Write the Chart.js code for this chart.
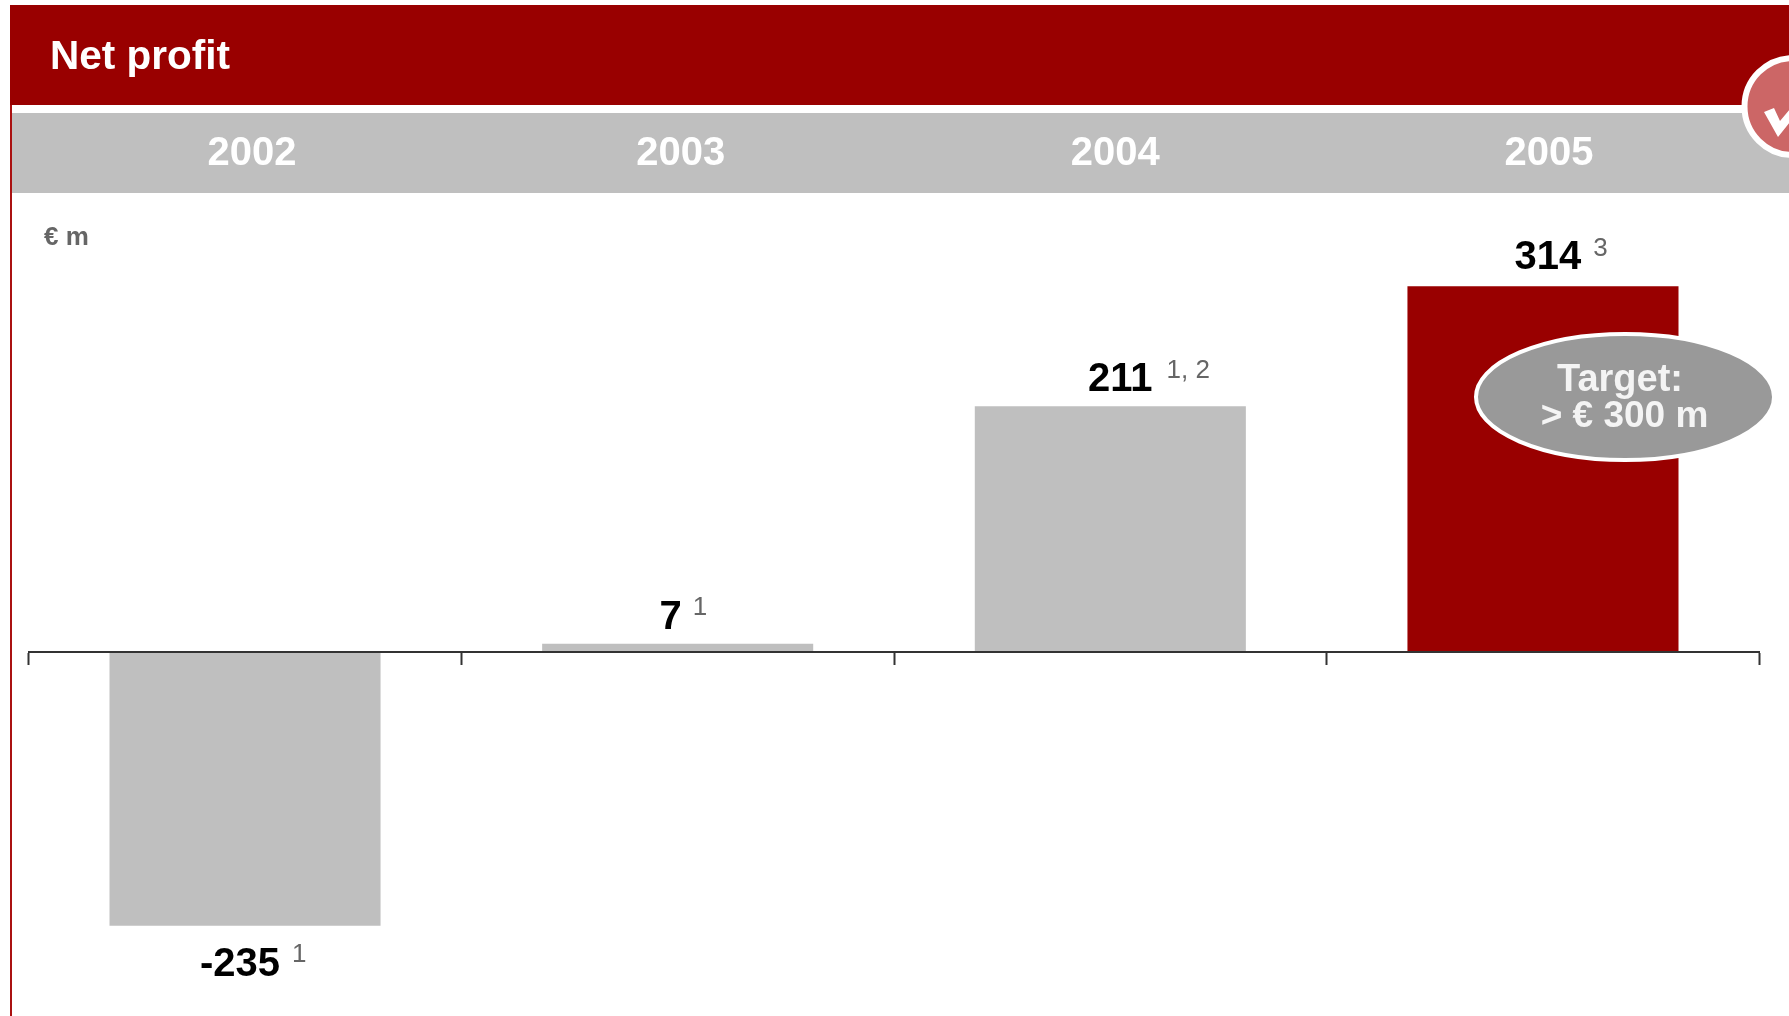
<!DOCTYPE html>
<html>
<head>
<meta charset="utf-8">
<title>Net profit</title>
<script src="https://cdn.jsdelivr.net/npm/chart.js@4"></script>
<style>
    html, body { margin: 0; padding: 0; background: #fff; }
    canvas { display: block; }
</style>
</head>
<body>
<canvas id="chartProfit" width="1789" height="1016"></canvas>
<script>
const years = ['2002', '2003', '2004', '2005'];
const netProfit = [-235, 7, 211, 314];
const footnotes = ['1', '1', '1, 2', '3'];
const barColors = ['#bfbfbf', '#bfbfbf', '#bfbfbf', '#990000'];

// how far each label sits from its bar
const yearShift = [7, 3, 5, 6];
const valueShift = [-5, -7, 10, 5];
const valueGap = [50, 15, 15, 17];
const noteGap = [12, 11, 14, 12];

const FONT = '"Liberation Sans", Arial, sans-serif';

function text(ctx, str, x, y, font, color, align) {
    ctx.font = font;
    ctx.fillStyle = color;
    ctx.textAlign = align || 'center';
    ctx.textBaseline = 'alphabetic';
    ctx.fillText(str, x, y);
}

// red title bar, grey year band and the left rule
const frame = {
    id: 'frame',
    beforeDraw(chart) {
        const ctx = chart.ctx;
        const xScale = chart.scales.x;
        ctx.save();
        ctx.fillStyle = '#990000';
        ctx.fillRect(10, 5, 1779, 100);
        ctx.fillStyle = '#aa1111';
        ctx.fillRect(10, 105, 2, 911);
        ctx.fillStyle = '#bfbfbf';
        ctx.fillRect(12, 113, 1777, 80);
        text(ctx, 'Net profit', 50, 69, 'bold 40.5px ' + FONT, '#fff', 'left');
        years.forEach((y, i) => {
            text(ctx, y, xScale.getPixelForValue(i) + yearShift[i], 164.5, 'bold 40px ' + FONT, '#fff');
        });
        text(ctx, '€ m', 44, 244.5, 'bold 26px ' + FONT, '#666', 'left');
        ctx.restore();
    }
};

// value labels with footnote marks, target bubble and tick badge
const overlay = {
    id: 'overlay',
    afterDraw(chart) {
        const ctx = chart.ctx;
        const bars = chart.getDatasetMeta(0).data;
        ctx.save();
        bars.forEach((bar, i) => {
            const val = String(netProfit[i]);
            const y = netProfit[i] < 0 ? bar.y + valueGap[i] : bar.y - valueGap[i];
            const cx = bar.x + valueShift[i];
            text(ctx, val, cx, y, 'bold 40px ' + FONT, '#000');
            const w = ctx.measureText(val).width;
            text(ctx, footnotes[i], cx + w / 2 + noteGap[i], y - 13.5, '26px ' + FONT, '#666', 'left');
        });

        // target bubble
        ctx.beginPath();
        ctx.ellipse(1625, 397, 149, 63, 0, 0, Math.PI * 2);
        ctx.fillStyle = '#999999';
        ctx.fill();
        ctx.lineWidth = 4;
        ctx.strokeStyle = '#fff';
        ctx.stroke();
        text(ctx, 'Target:', 1620, 390.5, 'bold 38px ' + FONT, '#f4f4f4');
        text(ctx, '> € 300 m', 1624.5, 426.5, 'bold 37px ' + FONT, '#f4f4f4');

        // tick badge, runs off the right edge
        ctx.beginPath();
        ctx.arc(1793, 106.5, 48.5, 0, Math.PI * 2);
        ctx.fillStyle = '#cc6666';
        ctx.fill();
        ctx.lineWidth = 6;
        ctx.strokeStyle = '#fff';
        ctx.stroke();
        ctx.beginPath();
        ctx.moveTo(1764, 112);
        ctx.lineTo(1774, 108);
        ctx.lineTo(1780, 121);
        ctx.lineTo(1790, 109);
        ctx.lineTo(1790, 122);
        ctx.lineTo(1778, 137);
        ctx.closePath();
        ctx.fillStyle = '#fff';
        ctx.fill();
        ctx.restore();
    }
};

const ctxProfit = document.getElementById('chartProfit').getContext('2d');
new Chart(ctxProfit, {
    type: 'bar',
    data: {
        labels: years,
        datasets: [{
            data: netProfit,
            backgroundColor: barColors,
            borderWidth: 0,
            categoryPercentage: 1,
            barPercentage: 0.6265
        }]
    },
    plugins: [frame, overlay],
    options: {
        responsive: false,
        animation: false,
        layout: {
            padding: { left: 28.7, right: 29.7, top: 186, bottom: 14.5 }
        },
        plugins: {
            legend: { display: false },
            tooltip: { enabled: false }
        },
        scales: {
            x: {
                position: { y: 0 },
                ticks: { display: false },
                border: { color: '#333', width: 2, z: 2 },
                grid: {
                    drawOnChartArea: false,
                    drawTicks: true,
                    tickLength: 12,
                    tickWidth: 2,
                    tickColor: '#333'
                }
            },
            y: {
                display: false,
                min: -300,
                max: 400
            }
        }
    }
});
</script>
</body>
</html>
